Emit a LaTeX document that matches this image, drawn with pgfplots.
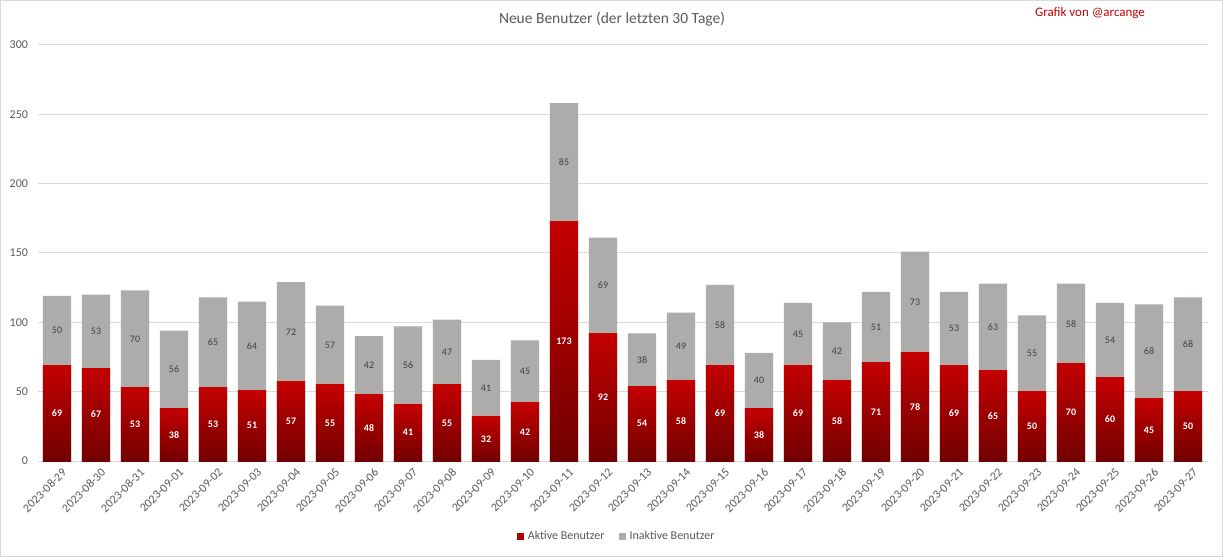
\documentclass[border=0pt]{standalone}
\usepackage{pgfplots}
\pgfplotsset{compat=1.18}
\usepackage{pgfplotstable}
\usepackage{fontspec}
\setmainfont{Carlito}
\definecolor{redtop}{HTML}{C40000}
\definecolor{redbot}{HTML}{720000}
\definecolor{redleg}{HTML}{B00000}
\definecolor{grayb}{HTML}{AEABAB}
\definecolor{txt}{HTML}{595959}
\definecolor{gridc}{HTML}{D9D9D9}
\definecolor{lbl}{HTML}{404040}
\pgfplotstableread{
x a b
0 69 50
1 67 53
2 53 70
3 38 56
4 53 65
5 51 64
6 57 72
7 55 57
8 48 42
9 41 56
10 55 47
11 32 41
12 42 45
13 173 85
14 92 69
15 54 38
16 58 49
17 69 58
18 38 40
19 69 45
20 58 42
21 71 51
22 78 73
23 69 53
24 65 63
25 50 55
26 70 58
27 60 54
28 45 68
29 50 68
}\data
\begin{document}
\begin{tikzpicture}[x=1pt,y=1pt]
\useasboundingbox (0,0) rectangle (1223,557);
\draw[gridc,line width=1pt] (0.5,0.5) rectangle (1222.5,556.5);
\node[text=txt,font=\fontsize{15.5}{18}\selectfont] at (612,538) {Neue Benutzer (der letzten 30 Tage)};
\node[text=redtop,font=\fontsize{13}{15}\selectfont] at (1090,544) {Grafik von @arcange};
\begin{axis}[
  at={(37.5pt,96pt)}, anchor=south west,
  scale only axis, width=1170pt, height=416pt,
  xmin=-0.5, xmax=29.5, ymin=0, ymax=300,
  ytick={0,50,...,300},
  xtick={0,...,29},
  xticklabels={2023-08-29,2023-08-30,2023-08-31,2023-09-01,2023-09-02,2023-09-03,2023-09-04,2023-09-05,2023-09-06,2023-09-07,2023-09-08,2023-09-09,2023-09-10,2023-09-11,2023-09-12,2023-09-13,2023-09-14,2023-09-15,2023-09-16,2023-09-17,2023-09-18,2023-09-19,2023-09-20,2023-09-21,2023-09-22,2023-09-23,2023-09-24,2023-09-25,2023-09-26,2023-09-27},
  axis line style={draw=none},
  major tick length=0pt,
  xmajorgrids=false, ymajorgrids=true,
  major grid style={draw=gridc, line width=1pt},
  /pgf/number format/assume math mode=true,
  tick label style={text=txt, font=\fontsize{12}{14}\selectfont},
  yticklabel style={xshift=-6pt},
  xticklabel style={rotate=45, anchor=east, xshift=2pt, yshift=-12pt},
  legend style={draw=none, at={(0.495,-0.181)}, anchor=center, legend columns=2,
    font=\fontsize{12}{14}\selectfont, text=txt,
    /tikz/every odd column/.append style={column sep=2pt},
    /tikz/every even column/.append style={column sep=12pt}},
  legend image code/.code={\fill[#1,draw=none] (0pt,-3.5pt) rectangle (7pt,3.5pt);},
  unbounded coords=discard,
]
\addplot[ybar, bar width=0.72, bar shift=0pt, draw=none, fill=grayb, forget plot]
  table[x=x, y expr=\thisrow{a}+\thisrow{b}] {\data};
\pgfplotsinvokeforeach{0,...,29}{
\addplot[ybar, bar width=0.72, bar shift=0pt, draw=none, top color=redtop, bottom color=redbot, forget plot, restrict x to domain=#1:#1]
  table[x=x, y=a] {\data};
}
\addplot[draw=none, mark=none, forget plot, nodes near coords, point meta=explicit,
  every node near coord/.style={anchor=center, text=white, font=\bfseries\fontsize{10}{12}\selectfont}]
  table[x=x, y expr=\thisrow{a}/2, meta=a] {\data};
\addplot[draw=none, mark=none, forget plot, nodes near coords, point meta=explicit,
  every node near coord/.style={anchor=center, text=lbl, font=\fontsize{10}{12}\selectfont}]
  table[x=x, y expr=\thisrow{a}+\thisrow{b}/2, meta=b] {\data};
\addlegendimage{fill=redleg}
\addlegendentry{Aktive Benutzer}
\addlegendimage{fill=grayb}
\addlegendentry{Inaktive Benutzer}
\end{axis}
\end{tikzpicture}
\end{document}
